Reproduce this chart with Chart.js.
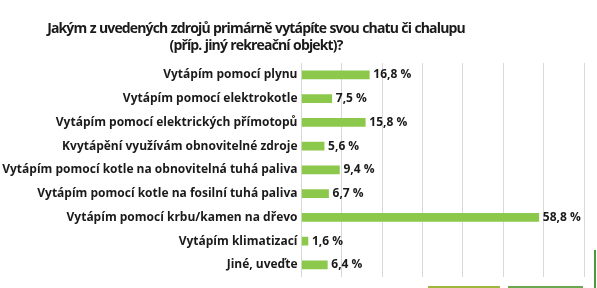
<!DOCTYPE html>
<html>
<head>
<meta charset="utf-8">
<script src="https://cdn.jsdelivr.net/npm/chart.js@4"></script>
<style>
html,body{margin:0;padding:0;background:#fff;}
#wrap{position:relative;width:597px;height:288px;overflow:hidden;}
#title{position:absolute;left:0;top:19px;width:512px;text-align:center;font-family:"Open Sans",sans-serif;font-weight:700;font-size:14px;line-height:17px;color:#1a1a1a;letter-spacing:-0.85px;word-spacing:0.5px;}
canvas{position:absolute;left:0;top:0;}
.deco{position:absolute;}
</style>
</head>
<body>
<div id="wrap">
<canvas id="c" width="597" height="288"></canvas>
<div id="title">Jakým z uvedených zdrojů primárně vytápíte svou chatu či chalupu<br>(příp. jiný rekreační objekt)?</div>
<div class="deco" style="left:428px;top:286px;width:72px;height:2px;background:#9db83a;"></div>
<div class="deco" style="left:508px;top:286px;width:75px;height:2px;background:#6aa84f;"></div>
<div class="deco" style="left:594px;top:250px;width:2px;height:38px;background:#4a9a3a;"></div>
</div>
<script>
const categories = [
  "Vytápím pomocí plynu",
  "Vytápím pomocí elektrokotle",
  "Vytápím pomocí elektrických přímotopů",
  "Kvytápění využívám obnovitelné zdroje",
  "Vytápím pomocí kotle na obnovitelná tuhá paliva",
  "Vytápím pomocí kotle na fosilní tuhá paliva",
  "Vytápím pomocí krbu/kamen na dřevo",
  "Vytápím klimatizací",
  "Jiné, uveďte"
];
const values = [16.8, 7.5, 15.8, 5.6, 9.4, 6.7, 58.8, 1.6, 6.4];
const valueLabels = ["16,8 %", "7,5 %", "15,8 %", "5,6 %", "9,4 %", "6,7 %", "58,8 %", "1,6 %", "6,4 %"];

const valuePlugin = {
  id: 'valueLabels',
  afterDatasetsDraw(chart) {
    const ctx = chart.ctx;
    const meta = chart.getDatasetMeta(0);
    ctx.save();
    ctx.font = 'bold 12px "Open Sans"';
    ctx.fillStyle = '#1a1a1a';
    ctx.textAlign = 'left';
    ctx.textBaseline = 'middle';
    meta.data.forEach((bar, i) => {
      ctx.fillText(valueLabels[i], bar.x + 4, bar.y);
    });
    ctx.restore();
  }
};

new Chart(document.getElementById('c'), {
  type: 'bar',
  data: {
    labels: categories,
    datasets: [{
      data: values,
      backgroundColor: '#8cc84b',
      barThickness: 8,
      borderWidth: 0
    }]
  },
  options: {
    indexAxis: 'y',
    responsive: false,
    animation: false,
    layout: { padding: { top: 63, bottom: 7, right: 13, left: 0 } },
    plugins: { legend: { display: false }, tooltip: { enabled: false }, title: { display: false } },
    scales: {
      x: {
        min: 0, max: 70,
        ticks: { display: false, stepSize: 10 },
        grid: { color: '#d9d9d9', drawTicks: false, lineWidth: 1 },
        border: { display: false }
      },
      y: {
        ticks: { color: '#1a1a1a', font: { family: '"Open Sans"', weight: 'bold', size: 12 }, padding: 4 },
        grid: { display: false, drawTicks: false },
        border: { display: false },
        afterFit(scale) { scale.width = 301.5; }
      }
    }
  },
  plugins: [valuePlugin]
});
</script>
</body>
</html>
